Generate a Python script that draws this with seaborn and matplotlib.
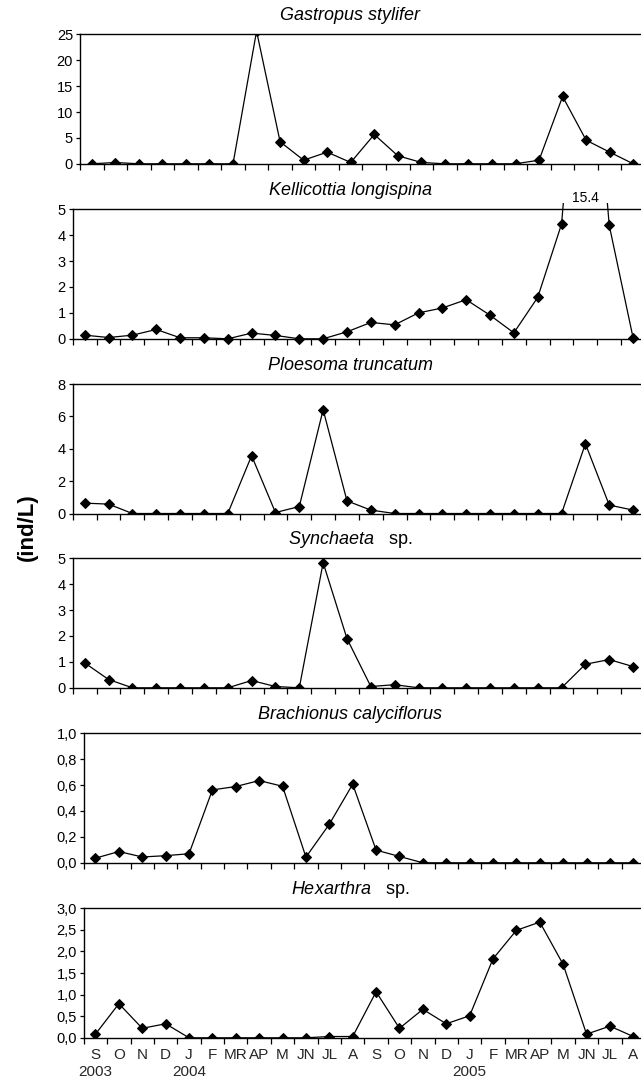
import numpy as np
import pandas as pd
import matplotlib
matplotlib.use("Agg")
import matplotlib.pyplot as plt
from matplotlib.patches import Rectangle
import seaborn as sns

sns.set_theme(style="ticks")
plt.rcParams["font.family"] = ["Liberation Sans", "DejaVu Sans"]
plt.rcParams["mathtext.fontset"] = "custom"
plt.rcParams["mathtext.rm"] = "Liberation Sans"
plt.rcParams["mathtext.it"] = "Liberation Sans:italic"

# ---------------- data ----------------
months = ["S", "O", "N", "D", "J", "F", "MR", "AP", "M", "JN", "JL", "A"] * 2
year_labels = {0: "2003", 4: "2004", 16: "2005"}

gastropus = [0, 0.25, 0, 0, 0, 0, 0, 25.6, 4.25, 0.7, 2.25, 0.26, 5.66, 1.55,
             0.26, 0, 0, 0, 0, 0.7, 13.0, 4.55, 2.25, 0]
kellicottia = [0.14, 0.05, 0.14, 0.36, 0.04, 0.04, 0, 0.22, 0.13, 0, 0, 0.27,
               0.63, 0.54, 1.0, 1.19, 1.51, 0.91, 0.23, 1.6, 4.43, 15.4, 4.38, 0.04]
ploesoma = [0.64, 0.58, 0, 0, 0, 0, 0, 3.57, 0.06, 0.43, 6.41, 0.78, 0.21, 0,
            0, 0, 0, 0, 0, 0, 0, 4.31, 0.52, 0.21]
synchaeta = [0.96, 0.32, 0, 0, 0, 0, 0, 0.28, 0.05, 0, 4.83, 1.9, 0.05, 0.12,
             0, 0, 0, 0, 0, 0, 0, 0.91, 1.09, 0.82]
brachionus = [0.036, 0.087, 0.045, 0.055, 0.07, 0.563, 0.589, 0.635, 0.591, 0.044,
              0.298, 0.607, 0.098, 0.049, 0, 0, 0, 0, 0, 0, 0, 0, 0, 0]
hexarthra = [0.085, 0.79, 0.22, 0.325, 0, 0, 0, 0, 0, 0, 0.03, 0.03, 1.067,
             0.22, 0.66, 0.325, 0.51, 1.83, 2.49, 2.68, 1.70, 0.085, 0.27, 0.03]

titles = [r"$\it{Gastropus\ stylifer}$", r"$\it{Kellicottia\ longispina}$",
          r"$\it{Ploesoma\ truncatum}$", r"$\it{Synchaeta}$   sp.",
          r"$\it{Brachionus\ calyciflorus}$", r"$\it{Hexarthra}$   sp."]
series = [gastropus, kellicottia, ploesoma, synchaeta, brachionus, hexarthra]
ymaxs = [25, 5, 8, 5, 1.0, 3.0]
ysteps = [5, 1, 2, 1, 0.2, 0.5]
decimal_fmt = [False, False, False, False, True, True]

# ---------------- layout ----------------
W, H = 641, 1085
fig = plt.figure(figsize=(W / 100, H / 100), dpi=100)
fig.patch.set_facecolor("white")

tops = [34.3, 209.3, 384.0, 558.3, 733.3, 908.3]
ph = 129.5
lefts = [80, 72.8, 72.8, 72.8, 83.8, 83.8]
right = 645

pos = np.arange(len(months))

for i, (vals, title) in enumerate(zip(series, titles)):
    l = lefts[i]
    t = tops[i]
    ax = fig.add_axes([l / W, 1 - (t + ph) / H, (right - l) / W, ph / H])
    ax.set_facecolor("white")
    df = pd.DataFrame({"x": pos, "y": vals})
    sns.lineplot(data=df, x="x", y="y", ax=ax, color="black", linewidth=0.9,
                 marker="D", markersize=5.4, markeredgecolor="black",
                 markerfacecolor="black", legend=False)
    ax.set_xlim(-0.5, len(months) - 0.5)
    ax.set_ylim(0, ymaxs[i])
    yt = np.arange(0, ymaxs[i] + 1e-9, ysteps[i])
    ax.set_yticks(yt)
    if decimal_fmt[i]:
        ax.set_yticklabels([f"{v:.1f}".replace(".", ",") for v in yt])
    else:
        ax.set_yticklabels([f"{int(round(v))}" for v in yt])
    ax.set_xticks(np.arange(-0.5, len(months), 1.0))
    ax.set_xticklabels([])
    ax.tick_params(axis="x", which="major", direction="out", length=4, width=0.9,
                   color="black")
    ax.tick_params(axis="y", which="major", direction="out", length=3, width=0.9,
                   color="black", labelsize=10.5, pad=2, labelcolor="black")
    ax.set_xlabel("")
    ax.set_ylabel("")
    for s in ["left", "bottom", "top"]:
        ax.spines[s].set_color("black")
        ax.spines[s].set_linewidth(1.0)
    ax.spines["right"].set_visible(False)
    fig.text(350 / W, 1 - (t - 18.5) / H, title, ha="center", va="center",
             fontsize=13, color="black")

    if i == 1:
        line = ax.lines[-1]
        clip = Rectangle((-0.5, -1), len(months), 1 + 5.23, transform=ax.transData,
                         facecolor="none", edgecolor="none")
        line.set_clip_path(clip)
        line.set_clip_on(True)
        k = int(np.argmax(vals))
        ax.text(k, 5.42, f"{vals[k]}", ha="center", va="center", fontsize=10,
                color="black", clip_on=False)
    if i == len(series) - 1:
        labels = [m + ("\n" + year_labels[j] if j in year_labels else "")
                  for j, m in enumerate(months)]
        ax.set_xticks(pos, minor=True)
        ax.set_xticklabels(labels, minor=True, fontsize=11, linespacing=1.3,
                           va="top")
        ax.tick_params(axis="x", which="minor", length=0, pad=7)

fig.text(27 / W, 1 - 527 / H, "(ind/L)", rotation=90, ha="center", va="center",
         fontsize=16, fontweight="bold", color="black")

fig.savefig("out.png", dpi=100, facecolor="white")
